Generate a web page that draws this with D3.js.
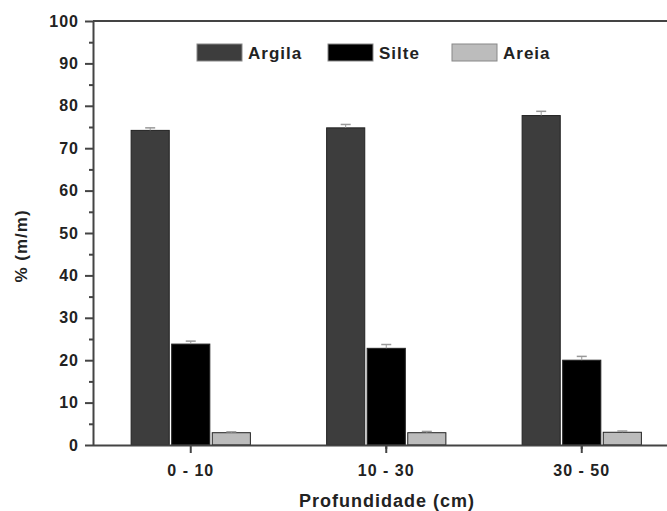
<!DOCTYPE html>
<meta charset="utf-8">
<script src="https://d3js.org/d3.v7.min.js"></script>
<style>
  body { margin: 0; background: #fff; }
  svg text { font-family: "Liberation Sans", Arial, sans-serif; font-weight: bold; fill: #222; letter-spacing: 1px; }
</style>
<div id="chart"></div>
<script>
// data
var groups = ["0 - 10", "10 - 30", "30 - 50"];
var series = ["Argila", "Silte", "Areia"];
var argila = [74.2, 74.8, 77.7];
var silte = [23.8, 22.8, 20.0];
var areia = [2.9, 2.9, 3.0];
var argilaErr = [0.6, 0.8, 1.0];
var silteErr = [0.7, 0.9, 0.9];
var areiaErr = [0.2, 0.3, 0.3];
var yTicks = [0, 10, 20, 30, 40, 50, 60, 70, 80, 90, 100];
var colors = {"Argila": "#3d3d3d", "Silte": "#000000", "Areia": "#bcbcbc"};

var values = {"Argila": argila, "Silte": silte, "Areia": areia};
var errors = {"Argila": argilaErr, "Silte": silteErr, "Areia": areiaErr};
var data = [];
groups.forEach(function(g, i) {
  series.forEach(function(s) {
    data.push({group: g, key: s, value: values[s][i], err: errors[s][i]});
  });
});

var W = 667, H = 511;
var plotLeft = 93, plotTop = 21, plotBottom = 445;

var svg = d3.select("#chart").append("svg")
  .attr("width", W).attr("height", H);

var x = d3.scaleBand().domain(groups).range([plotLeft, plotLeft + 3 * 195.5]);
var inner = d3.scaleBand().domain(series)
  .range([-x.bandwidth() * 0.305, x.bandwidth() * 0.305]).paddingInner(0.06);
var y = d3.scaleLinear().domain([0, 100]).range([plotBottom, plotTop]);

// top frame line
svg.append("line")
  .attr("x1", plotLeft).attr("x2", W + 5)
  .attr("y1", plotTop).attr("y2", plotTop)
  .style("stroke", "#444").style("stroke-width", 2);

// bars
svg.selectAll("rect.bar")
  .data(data)
  .enter().append("rect")
    .attr("class", "bar")
    .attr("x", function(d) { return x(d.group) + x.bandwidth() / 2 + inner(d.key); })
    .attr("y", function(d) { return y(d.value); })
    .attr("width", inner.bandwidth())
    .attr("height", function(d) { return y(0) - y(d.value); })
    .style("fill", function(d) { return colors[d.key]; })
    .style("stroke", "#222")
    .style("stroke-width", 1);

// error bars
var eb = svg.selectAll("g.err").data(data).enter().append("g")
  .attr("class", "err")
  .attr("transform", function(d) {
    return "translate(" + (x(d.group) + x.bandwidth() / 2 + inner(d.key) + inner.bandwidth() / 2) + ",0)";
  });
eb.append("line")
  .attr("y1", function(d) { return y(d.value); })
  .attr("y2", function(d) { return y(d.value + d.err); })
  .style("stroke", "#999").style("stroke-width", 1);
eb.append("line")
  .attr("x1", -5).attr("x2", 5)
  .attr("y1", function(d) { return y(d.value + d.err); })
  .attr("y2", function(d) { return y(d.value + d.err); })
  .style("stroke", "#999").style("stroke-width", 1.5);

// y axis
var yAxis = svg.append("g")
  .attr("transform", "translate(" + plotLeft + ",0)")
  .call(d3.axisLeft(y).tickValues(yTicks).tickSize(8).tickSizeOuter(0).tickPadding(6));
yAxis.selectAll("text").style("font-size", "16px").style("fill", "#222");
svg.append("g")
  .attr("transform", "translate(" + plotLeft + ",0)")
  .call(d3.axisLeft(y).tickValues(d3.range(5, 100, 10)).tickSize(4).tickFormat(""))
  .select(".domain").remove();

// x axis
var xAxis = svg.append("g")
  .attr("transform", "translate(0," + plotBottom + ")")
  .call(d3.axisBottom(x).tickSize(8).tickSizeOuter(0).tickPadding(12));
xAxis.select(".domain").attr("d", "M" + plotLeft + ",0.5H" + (W + 5));
xAxis.selectAll("text").style("font-size", "16px").style("fill", "#222");
svg.append("g")
  .attr("transform", "translate(0," + plotBottom + ")")
  .call(d3.axisBottom(x).tickValues(groups.slice(1)).tickSize(4).tickFormat("")
    .offset(-x.bandwidth() / 2))
  .select(".domain").remove();

svg.selectAll(".domain, .tick line").style("stroke", "#444").style("stroke-width", 2);

// axis titles
svg.append("text")
  .attr("transform", "translate(27," + 246 + ") rotate(-90)")
  .attr("text-anchor", "middle")
  .style("font-size", "17px")
  .text("% (m/m)");
svg.append("text")
  .attr("x", 387).attr("y", 507)
  .attr("text-anchor", "middle")
  .style("font-size", "18px")
  .text("Profundidade (cm)");

// legend
var legendX = [197, 328, 452];
var legend = svg.selectAll("g.legend").data(series).enter().append("g")
  .attr("class", "legend")
  .attr("transform", function(d, i) { return "translate(" + legendX[i] + ",44)"; });
legend.append("rect")
  .attr("width", 45).attr("height", 17)
  .style("fill", function(d) { return colors[d]; })
  .style("stroke", "#888").style("stroke-width", 1);
legend.append("text")
  .attr("x", 51).attr("y", 15)
  .style("font-size", "17px")
  .text(function(d) { return d; });
</script>
